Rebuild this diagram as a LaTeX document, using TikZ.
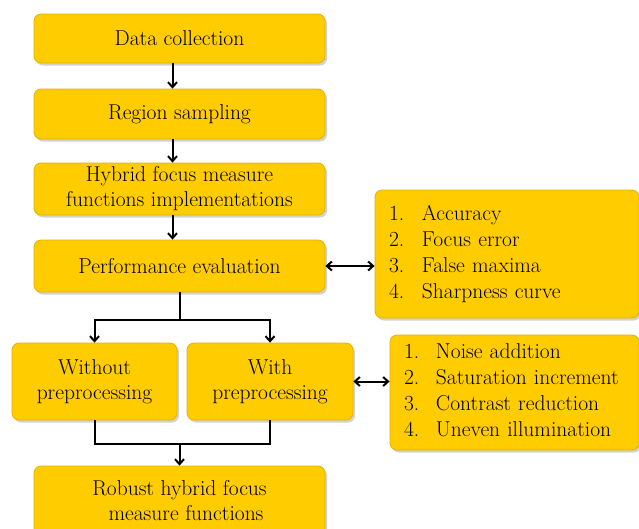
\documentclass[tikz,border=0pt]{standalone}
\usepackage{fontspec}
\usetikzlibrary{arrows.meta,shadows}

\definecolor{boxgold}{RGB}{255,204,0}
\definecolor{boxedge}{RGB}{228,178,0}

\tikzset{
  box/.style={draw=boxedge, fill=boxgold, line width=0.8pt, rounded corners=7pt,
    drop shadow={opacity=0.35, shadow xshift=2pt, shadow yshift=-2.5pt},
    inner sep=0pt, align=center, font=\rmfamily\fontsize{21.5}{25}\selectfont},
  listbox/.style={box, align=left, inner xsep=14pt},
  link/.style={line width=2pt, -{Straight Barb[length=5pt,width=9pt]}},
  duplex/.style={line width=2pt, {Straight Barb[length=5pt,width=9pt]}-{Straight Barb[length=5pt,width=9pt]}}
}

\begin{document}
\begin{tikzpicture}[x=1pt, y=-1pt]
  \clip (0,0) rectangle (639,528);
  \fill[white] (0,0) rectangle (639,528);
  % main column
  \node[box, minimum width=291pt, minimum height=49pt] (collect) at (179.5,38.5) {Data collection};
  \node[box, minimum width=291pt, minimum height=50pt] (sample) at (179.5,114) {Region sampling};
  \node[box, minimum width=291pt, minimum height=52pt] (hybrid) at (179.5,189) {Hybrid focus measure\\functions implementations};
  \node[box, minimum width=291pt, minimum height=52pt] (perf) at (179.5,266) {Performance evaluation};
  % criteria list
  \node[listbox, minimum width=264pt, minimum height=128pt, text width=236pt] (criteria) at (507,254)
    {\begin{tabular}{@{}p{33pt}@{}l@{}}1. & Accuracy\\[1pt] 2. & Focus error\\[1pt] 3. & False maxima\\[1pt] 4. & Sharpness curve\end{tabular}};
  % two branches
  \node[box, minimum width=165pt, minimum height=77pt] (without) at (94.5,381.5) {Without\\preprocessing};
  \node[box, minimum width=166pt, minimum height=77pt] (with) at (270,381.5) {With\\preprocessing};
  % distortion list
  \node[listbox, minimum width=249pt, minimum height=115pt, text width=221pt] (distort) at (514.5,392.5)
    {\begin{tabular}{@{}p{32pt}@{}l@{}}1. & Noise addition\\[1pt] 2. & Saturation increment\\[1pt] 3. & Contrast reduction\\[1pt] 4. & Uneven illumination\end{tabular}};
  % result
  \node[box, minimum width=291pt, minimum height=70pt] (robust) at (179.5,501) {Robust hybrid focus\\\ \ measure functions};

  % connectors
  \draw[link] ([xshift=-7pt]collect.south) -- ([xshift=-7pt]sample.north);
  \draw[link] ([xshift=-7pt]sample.south) -- ([xshift=-7pt]hybrid.north);
  \draw[link] ([xshift=-7pt]hybrid.south) -- ([xshift=-7pt]perf.north);
  \draw[duplex] (perf.east) -- (criteria.west |- perf.east);
  \draw[duplex] (with.east) -- (distort.west |- with.east);
  \coordinate (split) at (179.5,320);
  \coordinate (merge) at (179.5,444);
  \draw[line width=2pt] (perf.south) -- (split);
  \draw[link] (split) -| (without.north);
  \draw[link] (split) -| (with.north);
  \draw[line width=2pt] (without.south) |- (merge);
  \draw[line width=2pt] (with.south) |- (merge);
  \draw[link] (merge) -- (robust.north);
\end{tikzpicture}
\end{document}
